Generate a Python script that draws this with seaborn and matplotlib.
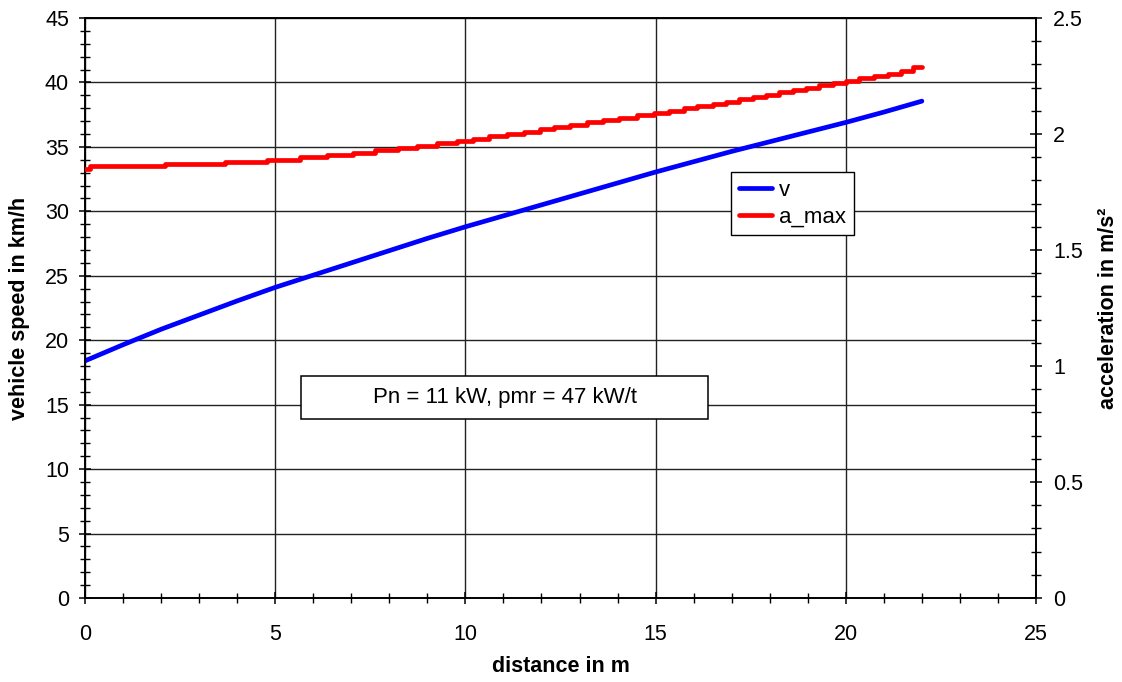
import numpy as np
import pandas as pd
import matplotlib
matplotlib.use("Agg")
import matplotlib.pyplot as plt
import seaborn as sns
from matplotlib.ticker import MultipleLocator, FuncFormatter
from matplotlib.patches import Rectangle

# ---------------- data ----------------
distance = [0, 1, 2, 3, 4, 5, 6, 7, 8, 9, 10, 11, 12, 13, 14, 15, 16, 17, 18, 19, 20, 21, 22]
speed_kmh = [18.4, 19.65, 20.85, 21.95, 23.05, 24.1, 25.05, 26.0, 26.95, 27.9, 28.8, 29.65,
             30.5, 31.35, 32.2, 33.05, 33.85, 34.65, 35.4, 36.15, 36.9, 37.7, 38.55]

# a_max is a stepped series: the distance where each level starts, and the level
a_step_start = [0.0, 0.13, 2.1, 3.68, 4.79, 5.66, 6.37, 7.05, 7.63, 8.24, 8.74, 9.26, 9.79,
                10.21, 10.61, 11.1, 11.53, 11.97, 12.32, 12.76, 13.2, 13.63, 14.05, 14.5,
                14.95, 15.34, 15.74, 16.1, 16.5, 16.84, 17.18, 17.55, 17.89, 18.24, 18.6,
                18.95, 19.29, 19.66, 20.0, 20.34, 20.74, 21.1, 21.45, 21.76]
a_levels = [1.85, 1.86, 1.87, 1.88, 1.89, 1.90, 1.91, 1.92, 1.93, 1.94, 1.95, 1.96, 1.97,
            1.98, 1.99, 2.00, 2.01, 2.02, 2.03, 2.04, 2.05, 2.06, 2.07, 2.08,
            2.09, 2.10, 2.11, 2.12, 2.13, 2.14, 2.15, 2.16, 2.17, 2.18, 2.19,
            2.20, 2.21, 2.22, 2.23, 2.24, 2.25, 2.26, 2.27, 2.29]
a_end_distance = 22.0

x_ticks = [0, 5, 10, 15, 20, 25]
left_ticks = [0, 5, 10, 15, 20, 25, 30, 35, 40, 45]
right_ticks = [0, 0.5, 1, 1.5, 2, 2.5]

series_names = ["v", "a_max"]
annotation = "Pn = 11 kW, pmr = 47 kW/t"

# ---------------- style ----------------
sns.set_style("white")
plt.rcParams["font.family"] = ["Liberation Sans", "DejaVu Sans"]
plt.rcParams["text.color"] = "black"
plt.rcParams["axes.labelcolor"] = "black"
plt.rcParams["xtick.color"] = "black"
plt.rcParams["ytick.color"] = "black"

W, H = 1122, 682
fig = plt.figure(figsize=(W / 100, H / 100), dpi=100)
ax = fig.add_axes([85 / W, 1 - 598 / H, 951 / W, 580 / H])
ax2 = ax.twinx()

df_v = pd.DataFrame({"distance": distance, "v": speed_kmh})
df_a = pd.DataFrame({"distance": a_step_start + [a_end_distance],
                     "a_max": a_levels + [a_levels[-1]]})

sns.lineplot(data=df_v, x="distance", y="v", ax=ax, color="#0000FF", lw=3.4,
             legend=False, zorder=3)
sns.lineplot(data=df_a, x="distance", y="a_max", ax=ax2, color="#FF0000", lw=3.4,
             drawstyle="steps-post", legend=False, zorder=3)

# axes limits/ticks
ax.set_xlim(0, 25)
ax.set_ylim(0, 45)
ax2.set_ylim(0, 2.5)
ax.set_xticks(x_ticks)
ax.set_yticks(left_ticks)
ax2.set_yticks(right_ticks)
ax.xaxis.set_minor_locator(MultipleLocator(1))
ax.yaxis.set_minor_locator(MultipleLocator(1))
ax2.yaxis.set_minor_locator(MultipleLocator(0.1))
ax2.yaxis.set_major_formatter(FuncFormatter(lambda v, p: f"{v:g}"))

ax.grid(True, which="major", color="#222222", lw=1.0)
ax.set_axisbelow(True)
ax2.grid(False)

tick_fs = 15.5
ax.tick_params(axis="both", which="major", direction="inout", length=9, width=1.1,
               colors="black", labelsize=tick_fs, left=True, bottom=True,
               right=False, top=False)
ax.tick_params(axis="both", which="minor", direction="inout", length=7, width=1.0,
               colors="black", left=True, bottom=True, right=False, top=False)
ax.tick_params(axis="x", which="major", pad=14)
ax.tick_params(axis="y", which="major", pad=7)
ax2.tick_params(axis="y", which="major", direction="inout", length=9, width=1.1,
                colors="black", labelsize=tick_fs, right=True, left=False, pad=8)
ax2.tick_params(axis="y", which="minor", direction="inout", length=7, width=1.0,
                colors="black", right=True, left=False)

for a in (ax, ax2):
    for s in a.spines.values():
        s.set_color("black")
        s.set_linewidth(1.2)

# axis labels
lab_fs = 15.5
ax.set_xlabel("distance in m", fontsize=lab_fs, fontweight="bold", color="black")
ax.set_ylabel("vehicle speed in km/h", fontsize=lab_fs, fontweight="bold", color="black")
ax2.set_ylabel("acceleration in m/s²", fontsize=lab_fs, fontweight="bold", color="black")
ax.xaxis.set_label_coords(0.5, (598 - 667) / 580)
ax.xaxis.label.set_va("center")
ax.yaxis.set_label_coords((20 - 85) / 951, 0.5)
ax.yaxis.label.set_va("center")
ax2.yaxis.set_label_coords((1108 - 85) / 951, 0.5)
ax2.yaxis.label.set_va("center")

# annotation box
rect = Rectangle((5.68, 13.9), 10.69, 3.3, facecolor="white", edgecolor="black",
                 lw=1.1, zorder=2.5)
ax.add_patch(rect)
ax.text(11.03, 15.55, annotation, ha="center", va="center", fontsize=16,
        color="black", zorder=2.6)

# legend
lines = [ax.get_lines()[0], ax2.get_lines()[0]]
leg = ax2.legend(lines, series_names, loc="upper left",
                 bbox_to_anchor=((731 - 85) / 951, (598 - 172) / 580),
                 frameon=True, fancybox=False, shadow=False, framealpha=1,
                 edgecolor="black", fontsize=16, handlelength=1.5, handletextpad=0.3,
                 borderpad=0.35, labelspacing=0.25, borderaxespad=0)
leg.get_frame().set_linewidth(1.0)
for t in leg.get_texts():
    t.set_color("black")

fig.savefig("out.png", dpi=100)
